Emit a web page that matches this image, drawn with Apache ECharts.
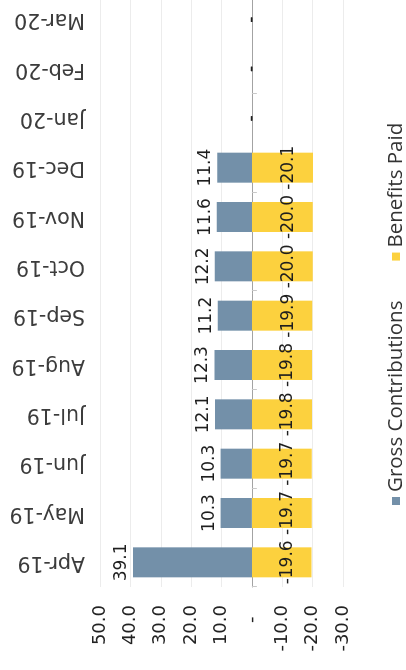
<!DOCTYPE html>
<html>
<head>
<meta charset="utf-8">
<title>Gross Contributions and Benefits Paid</title>
<script src="https://cdn.jsdelivr.net/npm/echarts@6/dist/echarts.min.js"></script>
<style>
  html, body { margin: 0; padding: 0; width: 406px; height: 670px; overflow: hidden; background: #fff; }
  /* The column chart is laid out upright (670 x 406) and turned a quarter turn
     counter-clockwise, so the months run from bottom to top of the page. */
  #chart {
    position: absolute; left: 0; top: 0;
    width: 670px; height: 406px;
    transform-origin: 0 0;
    transform: translate(0, 670px) rotate(-90deg);
  }
</style>
</head>
<body>
<div id="chart"></div>
<script>
// Monthly figures
const categories = ['Apr-19', 'May-19', 'Jun-19', 'Jul-19', 'Aug-19', 'Sep-19',
                    'Oct-19', 'Nov-19', 'Dec-19', 'Jan-20', 'Feb-20', 'Mar-20'];
const grossContributions = [39.1, 10.3, 10.3, 12.1, 12.3, 11.2, 12.2, 11.6, 11.4, 0, 0, 0];
const benefitsPaid = [-19.6, -19.7, -19.7, -19.8, -19.8, -19.9, -20.0, -20.0, -20.1, 0, 0, 0];
const seriesNames = ['Gross Contributions', 'Benefits Paid'];

// Value axis range and step
const valueMin = -30;
const valueMax = 50;
const valueStep = 10;

const COLOR_GROSS = '#7390a9';
const COLOR_BENEFITS = '#fcd13e';

// Accounting style: zero is shown as a dash
const fmt = v => (v === 0 ? '-' : v.toFixed(1));

// Zero months carry their dash label on the axis line itself
const toItems = values => values.map(v =>
  v === 0 ? { value: v, label: { position: 'inside', offset: [0, 0] } } : v);

const chart = echarts.init(document.getElementById('chart'), null, { renderer: 'canvas' });

chart.setOption({
  animation: false,
  backgroundColor: '#fff',
  grid: { left: 83, right: -5, top: 100, bottom: 63, containLabel: false, outerBoundsMode: 'none' },
  legend: {
    data: seriesNames,
    left: 160,
    top: 378,
    icon: 'rect',
    itemWidth: 8,
    itemHeight: 8,
    itemGap: 40,
    textStyle: { fontFamily: 'Open Sans', fontSize: 20.5, color: '#333', lineHeight: 26 }
  },
  xAxis: [
    {
      // month labels along the far edge
      type: 'category',
      data: categories,
      position: 'top',
      axisLine: { show: false, onZero: false },
      axisTick: { show: false },
      axisLabel: {
        interval: 0, rotate: -90, margin: 15,
        fontFamily: 'DejaVu Sans', fontSize: 20.5, color: '#3c3c3c'
      }
    },
    {
      // the zero baseline with its category ticks
      type: 'category',
      data: categories,
      position: 'bottom',
      axisLine: { show: true, onZero: true, lineStyle: { color: '#a3a3a3', width: 1 } },
      axisTick: { show: true, length: 5, lineStyle: { color: '#c8c8c8' } },
      axisLabel: { show: false }
    }
  ],
  yAxis: {
    type: 'value',
    min: valueMin,
    max: valueMax,
    interval: valueStep,
    axisLine: { show: false },
    axisTick: { show: false },
    splitLine: { lineStyle: { color: '#ececec', width: 1 } },
    axisLabel: {
      margin: 18,
      fontFamily: 'DejaVu Sans', fontSize: 18, color: '#222',
      formatter: v => (v === 0 ? '-  ' : v.toFixed(1))
    }
  },
  series: [
    {
      name: seriesNames[0],
      type: 'bar',
      xAxisIndex: 0,
      data: toItems(grossContributions),
      barWidth: 30,
      barGap: '-100%',
      itemStyle: { color: COLOR_GROSS },
      label: {
        show: true, position: 'top', distance: 3,
        fontFamily: 'DejaVu Sans', fontSize: 17, color: '#1e1e1e',
        formatter: p => fmt(p.value)
      }
    },
    {
      name: seriesNames[1],
      type: 'bar',
      xAxisIndex: 0,
      data: toItems(benefitsPaid),
      barWidth: 30,
      barGap: '-100%',
      itemStyle: { color: COLOR_BENEFITS },
      label: {
        show: true, position: 'inside', offset: [0, 6],
        fontFamily: 'DejaVu Sans', fontSize: 17, color: '#1e1e1e',
        formatter: p => fmt(p.value)
      }
    }
  ]
});
</script>
</body>
</html>
